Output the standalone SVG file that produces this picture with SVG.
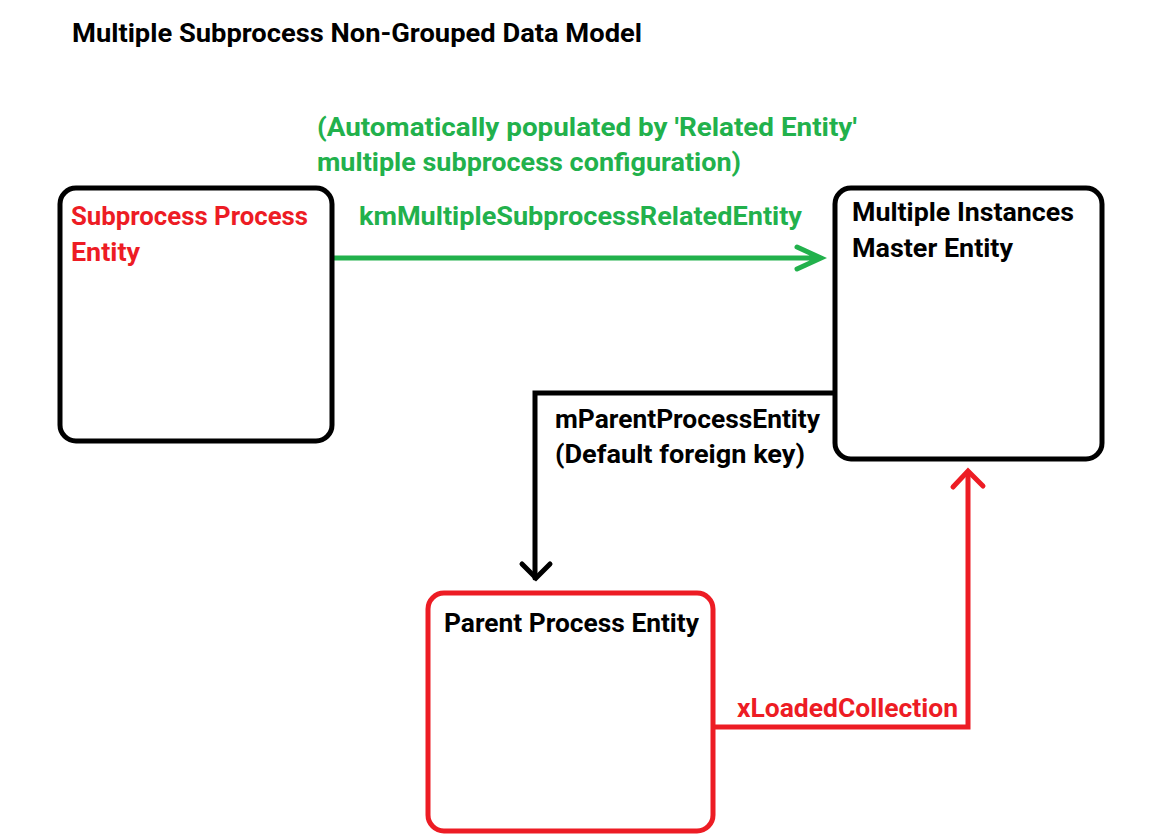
<svg xmlns="http://www.w3.org/2000/svg" width="1153" height="840" viewBox="0 0 1153 840">
<style>
text{font-family:Roboto,"Liberation Sans",sans-serif;font-weight:700;font-size:25px}
.k{fill:#000}.r{fill:#ED1C24}.g{fill:#22B14C}
.box{fill:#fff;stroke-width:5}
.line{fill:none;stroke-width:5;stroke-linecap:round;stroke-linejoin:miter}
</style>
<rect width="1153" height="840" fill="#fff"/>
<text class="k" x="72" y="42" textLength="570" lengthAdjust="spacingAndGlyphs">Multiple Subprocess Non-Grouped Data Model</text>
<g id="connectors">
<g id="c-green">
<path class="line" stroke="#22B14C" d="M333,258 H820 M797,247 L821,258 L797,269"/>
<text class="g" x="317" y="136" textLength="540" lengthAdjust="spacingAndGlyphs">(Automatically populated by 'Related Entity'</text>
<text class="g" x="317" y="171" textLength="424" lengthAdjust="spacingAndGlyphs">multiple subprocess configuration)</text>
<text class="g" x="359" y="225" textLength="443" lengthAdjust="spacingAndGlyphs">kmMultipleSubprocessRelatedEntity</text>
</g>
<g id="c-black">
<path class="line" stroke="#000" stroke-linecap="butt" d="M835,393 H535 V578"/>
<path class="line" stroke="#000" d="M522,564 L536,578 L550,564"/>
<text class="k" x="555" y="428" textLength="265" lengthAdjust="spacingAndGlyphs">mParentProcessEntity</text>
<text class="k" x="555" y="463" textLength="250" lengthAdjust="spacingAndGlyphs">(Default foreign key)</text>
</g>
<g id="c-red">
<path class="line" stroke="#ED1C24" stroke-linecap="butt" d="M713,727 H968 V472"/>
<path class="line" stroke="#ED1C24" d="M953,487 L968,471 L983,486"/>
<text class="r" x="737" y="717" textLength="221" lengthAdjust="spacingAndGlyphs">xLoadedCollection</text>
</g>
</g>
<g id="subprocess-entity">
<rect class="box" x="60" y="188" width="272" height="253" rx="16" stroke="#000"/>
<text class="r" x="71" y="225" textLength="237" lengthAdjust="spacingAndGlyphs">Subprocess Process</text>
<text class="r" x="71" y="261" textLength="69" lengthAdjust="spacingAndGlyphs">Entity</text>
</g>
<g id="master-entity">
<rect class="box" x="835" y="188" width="267" height="271" rx="16" stroke="#000"/>
<text class="k" x="852" y="221" textLength="222" lengthAdjust="spacingAndGlyphs">Multiple Instances</text>
<text class="k" x="852" y="257" textLength="161" lengthAdjust="spacingAndGlyphs">Master Entity</text>
</g>
<g id="parent-entity">
<rect class="box" x="428" y="593" width="285" height="238" rx="16" stroke="#ED1C24"/>
<text class="k" x="444" y="632" textLength="255" lengthAdjust="spacingAndGlyphs">Parent Process Entity</text>
</g>
</svg>
